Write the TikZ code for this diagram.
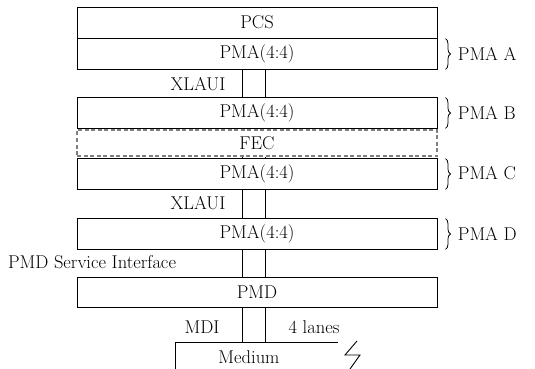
\documentclass[tikz,border=0pt]{standalone}
\usetikzlibrary{decorations.pathreplacing}
\begin{document}
\begin{tikzpicture}[x=1pt,y=-1pt,
  font=\fontsize{18.5}{20}\selectfont,
  every path/.style={line width=0.9pt},
  layer/.style={draw,fill=white,minimum width=360pt,minimum height=31pt,inner sep=0pt,line width=0.9pt},
  feclayer/.style={draw=gray,dash pattern=on 4pt off 2.5pt,fill=white,minimum width=360pt,minimum height=26pt,inner sep=0pt,line width=1.1pt},
  lbl/.style={inner sep=0pt},
  brc/.style={decorate,decoration={brace,amplitude=5pt,aspect=0.5},line width=0.8pt}]
\useasboundingbox (0,0) rectangle (535,369);
% layers
\node[layer] (PCS) at (257,22.5) {PCS};
\node[layer] (PMAA) at (257,53.5) {PMA(4:4)};
\node[layer] (PMAB) at (257,112.5) {PMA(4:4)};
\node[feclayer] (FEC) at (257,143) {FEC};
\node[layer] (PMAC) at (257,173.5) {PMA(4:4)};
\node[layer] (PMAD) at (257,233.5) {PMA(4:4)};
\node[layer,minimum height=30pt] (PMD) at (257,292) {PMD};
% medium
\coordinate (mL) at (242,342);
\coordinate (mR) at (265,342);
\coordinate (medTL) at (175,342);
\coordinate (medBL) at (175,369);
\coordinate (medTR) at (338,342);
\draw (medBL) -- (medTL) -- (medTR);
\draw (357,341) -- (345,355) -- (360,355) -- (350,369);
\node[lbl] (Medium) at (249,357) {Medium};
% interface lines
\foreach \a/\b in {PMAA/PMAB,PMAB/FEC,FEC/PMAC,PMAC/PMAD,PMAD/PMD}{
  \draw (\a.south -| mL) -- (\b.north -| mL);
  \draw (\a.south -| mR) -- (\b.north -| mR);
}
\draw (PMD.south -| mL) -- (mL);
\draw (PMD.south -| mR) -- (mR);
% labels
\node[lbl] (x1) at (198,84.5) {XLAUI};
\node[lbl] (x2) at (198,203.5) {XLAUI};
\node[lbl] (psi) at (92,262) {PMD Service Interface};
\node[lbl] (mdi) at (202,327) {MDI};
\node[lbl] (lanes) at (314,327) {4 lanes};
% braces
\foreach \n/\t in {PMAA/A,PMAB/B,PMAC/C,PMAD/D}{
  \draw[brc] ([xshift=8pt,yshift=-1pt]\n.north east) -- ([xshift=8pt]\n.south east);
  \node[lbl,anchor=west] (br\t) at ([xshift=20pt]\n.east) {PMA \t};
}
\end{tikzpicture}
\end{document}
